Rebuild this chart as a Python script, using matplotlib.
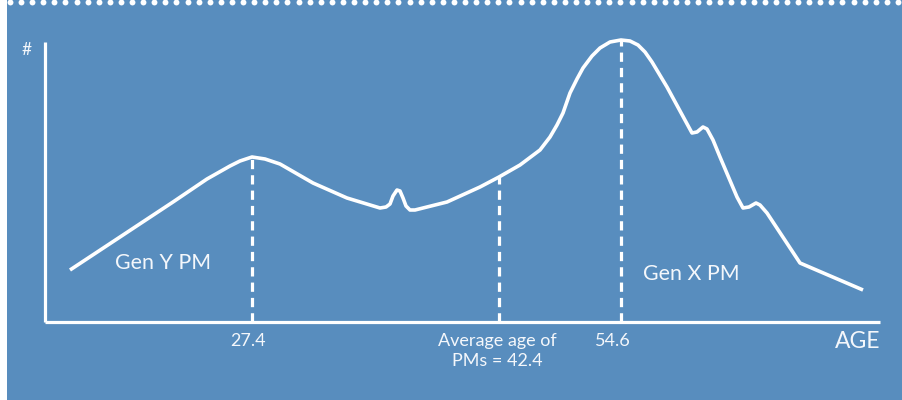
import matplotlib
matplotlib.use("Agg")
import matplotlib.pyplot as plt
import numpy as np
from matplotlib.patches import Rectangle

plt.rcParams['font.family'] = ['Lato', 'DejaVu Sans']

# ---- data (x: position along age axis, y: relative count) ----
curve_x = [25, 75, 128, 162, 185, 195, 207, 220, 235, 268, 302, 335, 341, 345,
           348, 352, 355, 358, 361, 365, 370, 402, 435, 454, 475, 495, 505, 512,
           518, 525, 532, 538, 547, 555, 565, 576, 585, 593, 600, 607, 622, 647,
           652, 658, 662, 668, 675, 692, 698, 704, 711, 715, 722, 755, 818]
curve_y = [52, 85, 120, 143, 156, 161, 165, 163, 158, 139, 124, 114, 115, 118,
           126, 132, 131, 124, 116, 112, 112, 120, 135, 145, 157, 172, 185, 197,
           209, 229, 243, 254, 266, 274, 280, 282, 281, 277, 270, 260, 235, 189,
           190, 195, 193, 182, 165, 125, 114, 115, 119, 117, 109, 59, 32]

marker_x = [207, 454, 576]           # dashed guide positions
marker_labels = ["27.4", "Average age of\nPMs = 42.4", "54.6"]
group_labels = ["Gen Y PM", "Gen X PM"]

BG = "#588DBE"
W, H = 903, 400

fig = plt.figure(figsize=(W / 100, H / 100), dpi=100)
fig.patch.set_facecolor("white")

# decoration layer in pixel coordinates
deco = fig.add_axes([0, 0, 1, 1])
deco.set_xlim(0, W)
deco.set_ylim(H, 0)
deco.axis("off")
deco.add_patch(Rectangle((7, 0), W - 7, H, facecolor=BG, edgecolor="none", zorder=0))
dots = np.linspace(10, 898, 81)
deco.scatter(dots, np.full_like(dots, 2.2), s=18, color="white", linewidths=0, zorder=2)

# chart axes
ax = fig.add_axes([45 / W, (H - 322) / H, (880 - 45) / W, (322 - 42) / H])
ax.set_facecolor("none")
ax.set_xlim(0, 835)
ax.set_ylim(0, 280)
for s in ["top", "right"]:
    ax.spines[s].set_visible(False)
for s in ["left", "bottom"]:
    ax.spines[s].set_color("white")
    ax.spines[s].set_linewidth(2.3)
    ax.spines[s].set_capstyle("butt")
ax.set_xticks([])
ax.set_yticks([])

ax.plot(curve_x, curve_y, color="white", lw=2.6, solid_joinstyle="round",
        solid_capstyle="butt", zorder=3, clip_on=False)

for mx in marker_x:
    top = np.interp(mx, curve_x, curve_y)
    ax.plot([mx, mx], [0, top], color="white", lw=2.3,
            linestyle=(0, (2.9, 1.9)), zorder=2, clip_on=False)

# text
tc = "#F4F7FB"
fw = "normal"
ax.text(marker_x[0] - 4, -19, marker_labels[0], color=tc, fontsize=13,
        fontweight=fw, ha="center", va="center", clip_on=False)
ax.text(marker_x[1] - 2, -29, marker_labels[1], color=tc, fontsize=13,
        fontweight=fw, ha="center", va="center", linespacing=1.25, clip_on=False)
ax.text(marker_x[2] - 8, -19, marker_labels[2], color=tc, fontsize=13,
        fontweight=fw, ha="center", va="center", clip_on=False)
ax.text(835, -20, "AGE", color=tc, fontsize=16.5, fontweight=fw,
        ha="right", va="center", clip_on=False)
ax.text(-18, 272, "#", color=tc, fontsize=12.5, fontweight=fw,
        ha="center", va="center", clip_on=False)
ax.text(70, 59, group_labels[0], color=tc, fontsize=15.4, fontweight=fw,
        ha="left", va="center")
ax.text(598, 48, group_labels[1], color=tc, fontsize=15.4, fontweight=fw,
        ha="left", va="center")

fig.savefig("out.png", dpi=100, facecolor=fig.get_facecolor())
